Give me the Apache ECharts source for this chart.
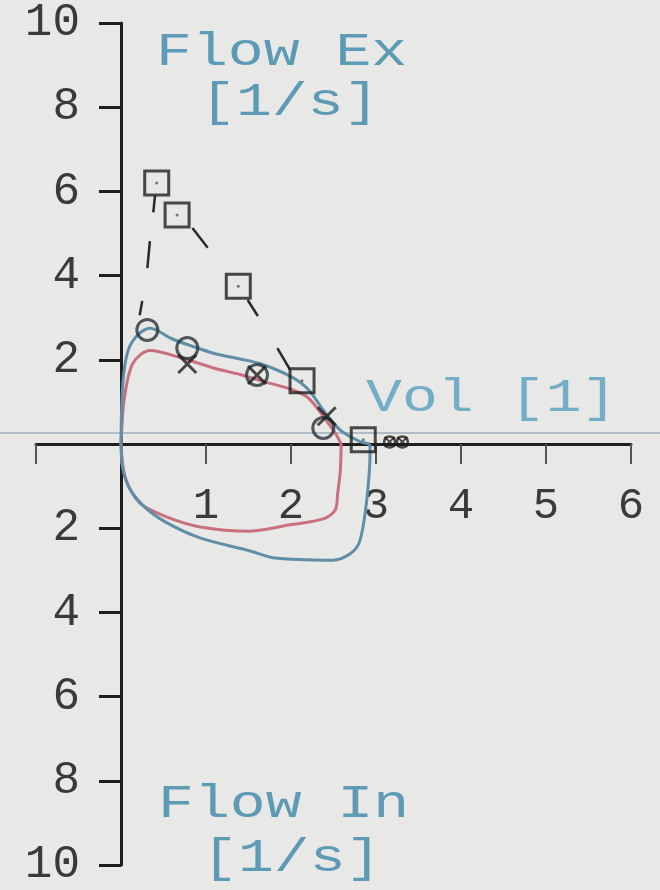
<!DOCTYPE html>
<html>
<head>
<meta charset="utf-8">
<script src="https://cdn.jsdelivr.net/npm/echarts@6/dist/echarts.min.js"></script>
<style>
  html, body { margin: 0; padding: 0; background: #e8e8e6; }
  #main { width: 660px; height: 890px; }
</style>
</head>
<body>
<div id="main"></div>
<script>
// volume [l], flow [l/s]  (expiration positive, inspiration negative)
const blueExp = [[0, 0], [0.02, 1.4], [0.08, 2.2], [0.2, 2.6], [0.34, 2.75], [0.6, 2.5], [0.8, 2.35],
  [1.1, 2.15], [1.4, 2.02], [1.65, 1.9], [2.0, 1.6], [2.2, 1.3], [2.4, 0.75], [2.58, 0.33], [2.8, 0.07], [2.93, 0]];
const blueInsp = [[0, 0], [0.02, -0.57], [0.1, -1.05], [0.28, -1.5], [0.52, -1.85], [0.93, -2.23], [1.52, -2.54],
  [1.79, -2.7], [2.2, -2.75], [2.49, -2.76], [2.7, -2.6], [2.81, -2.3], [2.89, -1.35], [2.93, -0.17], [2.93, 0]];
const redExp = [[0, 0], [0.04, 1.1], [0.14, 1.92], [0.34, 2.22], [0.75, 2.02], [1.1, 1.8], [1.4, 1.65],
  [1.65, 1.5], [2.0, 1.3], [2.2, 1.1], [2.4, 0.6], [2.52, 0.26], [2.59, 0]];
const redInsp = [[0, 0], [0.05, -0.8], [0.22, -1.4], [0.52, -1.72], [0.93, -1.97], [1.52, -2.07], [1.99, -1.92],
  [2.38, -1.78], [2.52, -1.57], [2.55, -1.16], [2.58, -0.64], [2.59, 0]];

// predicted values and markers
const squares = [[0.42, 6.2], [0.66, 5.44], [1.38, 3.75], [2.13, 1.5], [2.85, 0.1]];
const circles = [[0.31, 2.71], [0.78, 2.28], [1.6, 1.64], [2.38, 0.38]];
const crosses = [[0.78, 1.9], [1.6, 1.64], [2.42, 0.66]];
const smallMarks = [[3.16, 0.05], [3.31, 0.05]];
const whiskers = [
  [[0.4, 5.9], [0.38, 5.5]],
  [[0.84, 5.13], [1.02, 4.66]],
  [[0.34, 4.82], [0.31, 4.18]],
  [[1.49, 3.42], [1.61, 3.04]],
  [[0.25, 3.4], [0.22, 3.06]],
  [[1.84, 2.28], [1.99, 1.76]]
];

const xTicks = [-1, 0, 1, 2, 3, 4, 5, 6];
const yTicks = [-10, -8, -6, -4, -2, 0, 2, 4, 6, 8, 10];

const ink = '#1e1e1e';
const labelBlue = '#5d9ab5';
const monoFont = '"Liberation Mono", "DejaVu Sans Mono", monospace';
const crossPath = 'path://M0,0L20,20M20,0L0,20';

const chart = echarts.init(document.getElementById('main'));

function curve(name, data, color) {
  return {
    name: name,
    type: 'line',
    data: data,
    smooth: 0.3,
    showSymbol: false,
    lineStyle: { color: color, width: 3 },
    z: 2
  };
}

function label(text, x, y, color) {
  return {
    type: 'text',
    left: x,
    top: y,
    scaleX: 1.3,
    style: { text: text, fill: color, font: '46px ' + monoFont },
    z: 10
  };
}

const option = {
  backgroundColor: '#e8e8e6',
  animation: false,
  grid: { left: 36, right: 29, top: 23, bottom: 25, containLabel: false, outerBoundsMode: 'none' },
  xAxis: {
    type: 'value',
    min: xTicks[0],
    max: xTicks[xTicks.length - 1],
    interval: 1,
    axisLine: { onZero: true, lineStyle: { color: ink, width: 3 } },
    axisTick: { show: true, length: 20, lineStyle: { color: '#555', width: 2 } },
    axisLabel: {
      // labels stay at the grid edge, so pull them up to just under the zero line
      margin: -381,
      color: '#3a3a3a',
      fontFamily: monoFont,
      fontSize: 44,
      formatter: v => (v > 0 ? String(v) : '')
    },
    splitLine: { show: false }
  },
  yAxis: {
    type: 'value',
    min: yTicks[0],
    max: yTicks[yTicks.length - 1],
    interval: 2,
    axisLine: { onZero: true, lineStyle: { color: ink, width: 3 } },
    axisTick: { show: true, length: 22, lineStyle: { color: ink, width: 3 } },
    axisLabel: {
      margin: -44,
      color: '#3a3a3a',
      fontFamily: monoFont,
      fontSize: 46,
      formatter: v => (v === 0 ? '' : String(Math.abs(v)))
    },
    splitLine: { show: false }
  },
  graphic: [
    { type: 'line', shape: { x1: 0, y1: 433, x2: 660, y2: 433 }, style: { stroke: '#7f90a6', lineWidth: 1 }, z: 1 },
    label('Flow Ex', 156, 30, labelBlue),
    label('[1/s]', 200, 80, labelBlue),
    label('Vol [1]', 366, 376, '#74adc6'),
    label('Flow In', 158, 782, labelBlue),
    label('[1/s]', 202, 836, labelBlue)
  ],
  series: [
    curve('red exp', redExp, '#c9707f'),
    curve('red insp', redInsp, '#c9707f'),
    curve('blue exp', blueExp, '#5f8ea6'),
    curve('blue insp', blueInsp, '#5f8ea6'),
    {
      type: 'lines',
      coordinateSystem: 'cartesian2d',
      data: whiskers.map(w => ({ coords: w })),
      lineStyle: { color: '#2a2a2a', width: 2.5, opacity: 1 },
      z: 3
    },
    {
      type: 'scatter',
      data: squares,
      symbol: 'rect',
      symbolSize: 24,
      itemStyle: { color: 'rgba(0,0,0,0)', borderColor: ink, borderWidth: 3 },
      z: 4
    },
    {
      type: 'scatter',
      data: squares,
      symbol: 'circle',
      symbolSize: 3,
      itemStyle: { color: '#555' },
      z: 4
    },
    {
      type: 'scatter',
      data: circles,
      symbol: 'circle',
      symbolSize: 21,
      itemStyle: { color: 'rgba(0,0,0,0)', borderColor: '#25323a', borderWidth: 3 },
      z: 4
    },
    {
      type: 'scatter',
      data: crosses,
      symbol: crossPath,
      symbolSize: 18,
      itemStyle: { color: 'rgba(0,0,0,0)', borderColor: ink, borderWidth: 3 },
      z: 4
    },
    {
      type: 'scatter',
      data: smallMarks,
      symbol: 'circle',
      symbolSize: 11,
      itemStyle: { color: 'rgba(0,0,0,0)', borderColor: ink, borderWidth: 2.5 },
      z: 4
    },
    {
      type: 'scatter',
      data: smallMarks,
      symbol: crossPath,
      symbolSize: 10,
      itemStyle: { color: 'rgba(0,0,0,0)', borderColor: ink, borderWidth: 2 },
      z: 4
    }
  ]
};

chart.setOption(option);
</script>
</body>
</html>
